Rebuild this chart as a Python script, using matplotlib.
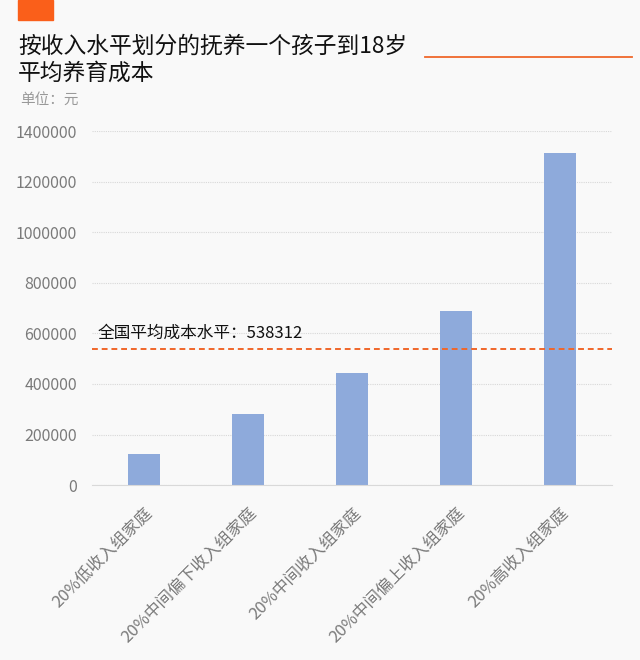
import matplotlib.pyplot as plt
import matplotlib.transforms as mtransforms
from matplotlib.patches import Rectangle
from matplotlib.lines import Line2D

plt.rcParams['font.family'] = ['Noto Sans CJK SC', 'DejaVu Sans']

# ---data--- #
groups = ['20%低收入组家庭', '20%中间偏下收入组家庭', '20%中间收入组家庭',
          '20%中间偏上收入组家庭', '20%高收入组家庭']
costs = [122000, 280000, 444000, 689000, 1313000]
national_avg = 538312
yticks = [0, 200000, 400000, 600000, 800000, 1000000, 1200000, 1400000]

bg = '#f9f9f9'
fig = plt.figure(figsize=(6.4, 6.6), dpi=100, facecolor=bg)
ax = fig.add_axes([0.144, 0.265, 0.812, 0.5365], facecolor=bg)

x = range(len(groups))
ax.bar(x, costs, width=0.31, color='#8eaadb', zorder=2)
ax.axhline(national_avg, color='#f0672a', linestyle=(0, (3, 2)), lw=1.4, zorder=3)
ax.text(0.01, national_avg + 30000, '全国平均成本水平：' + str(national_avg),
        transform=ax.get_yaxis_transform(), fontsize=12, color='#111111',
        va='bottom', ha='left')

ax.set_xlim(-0.5, len(groups) - 0.5)
ax.set_ylim(0, 1400000)
ax.set_yticks(yticks)
ax.set_yticklabels([str(v) for v in yticks], fontsize=11.5, color='#7a7a7a')
ax.yaxis.grid(True, color='#d8d8d8', lw=0.8, linestyle=(0, (1, 1)), zorder=0)
ax.set_xticks(list(x))
ax.set_xticklabels(groups, rotation=45, ha='right', rotation_mode='anchor',
                   fontsize=12, color='#7a7a7a')
shift = mtransforms.ScaledTranslation(6 / 72, 0, fig.dpi_scale_trans)
for lab in ax.get_xticklabels():
    lab.set_transform(lab.get_transform() + shift)
ax.tick_params(axis='both', length=0)
ax.tick_params(axis='y', pad=11)
ax.tick_params(axis='x', pad=14)
for s in ['top', 'right', 'left']:
    ax.spines[s].set_visible(False)
ax.spines['bottom'].set_color('#d9d9d9')

# header decorations
fig.patches.append(Rectangle((18 / 640, 1 - 20 / 660), 35 / 640, 20 / 660,
                             transform=fig.transFigure, color='#fa5f1a'))
fig.lines.append(Line2D([425 / 640, 632 / 640], [1 - 57 / 660, 1 - 57 / 660],
                        transform=fig.transFigure, color='#f0672a', lw=1.3))
fig.text(18 / 640, 1 - 46 / 660, '按收入水平划分的抚养一个孩子到18岁',
         fontsize=16.4, color='#111111', va='center')
fig.text(18 / 640, 1 - 73 / 660, '平均养育成本',
         fontsize=16.4, color='#111111', va='center')
fig.text(20 / 640, 1 - 100 / 660, '单位：元', fontsize=10.5, color='#999999',
         va='center')

fig.savefig('out.png', dpi=100, facecolor=bg)
